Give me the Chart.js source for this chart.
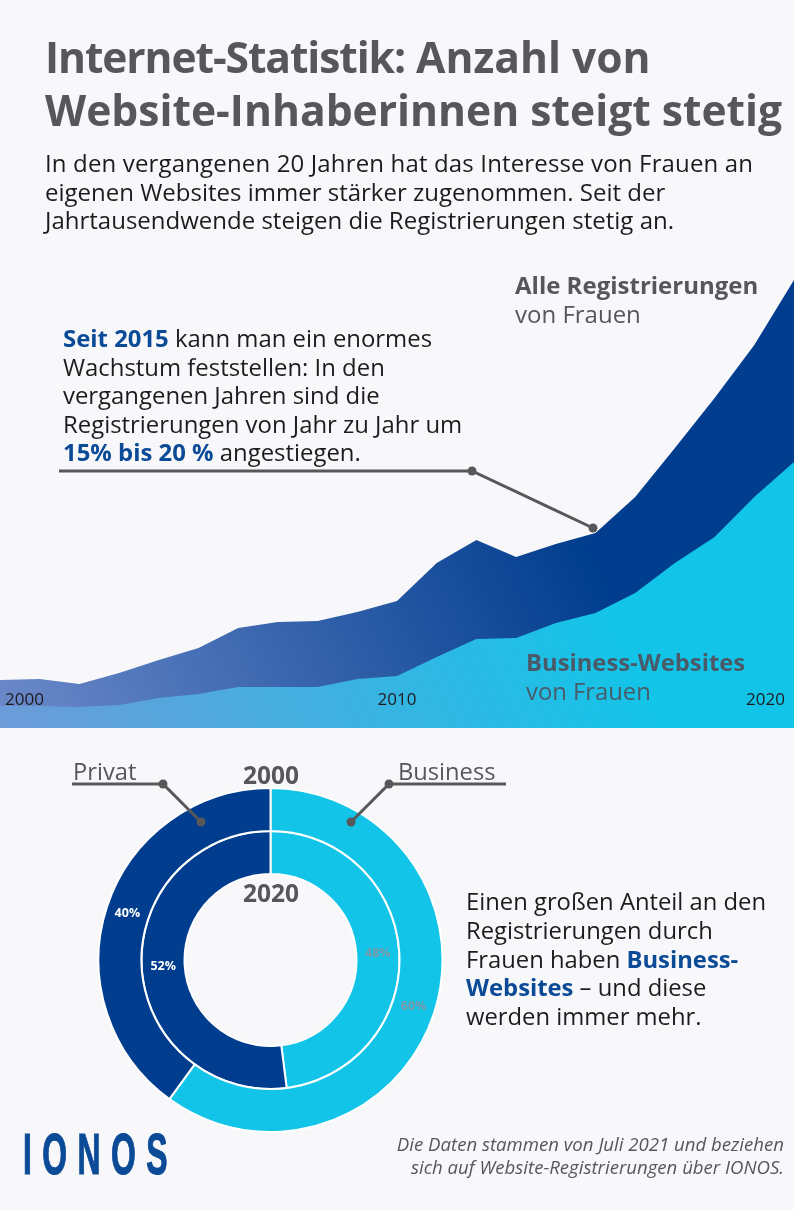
<!DOCTYPE html>
<html lang="de">
<head>
<meta charset="utf-8">
<title>Internet-Statistik</title>
<script src="https://cdn.jsdelivr.net/npm/chart.js@4/dist/chart.umd.min.js"></script>
<style>
    html, body { margin: 0; padding: 0; }
    body { position: relative; width: 794px; height: 1210px; overflow: hidden; background: #f8f8fb; font-family: "Open Sans", sans-serif; color: #1c1c1e; }
    canvas { position: absolute; }
    #areaChart { left: 0; top: 280px; }
    #donutChart { left: 97px; top: 787px; }
    svg { position: absolute; left: 0; top: 0; }
    .txt { position: absolute; white-space: nowrap; }
    .blue { color: #0a4a96; font-weight: 700; }
    .grey { color: #56575b; }
    h1 { position: absolute; left: 45px; top: 30px; margin: 0; font-size: 42.6px; line-height: 53px; font-weight: 700; color: #56575b; white-space: nowrap; }
</style>
</head>
<body>
<canvas id="areaChart" width="794" height="448"></canvas>
<canvas id="donutChart" width="347" height="346"></canvas>

<svg width="794" height="1210">
    <g fill="none" stroke="#58585a" stroke-width="3">
        <polyline points="59,471 472,471 593,528"/>
        <polyline points="72,784 163,784 201,822"/>
        <polyline points="506,784 389,784 351,822"/>
    </g>
    <g fill="#58585a">
        <circle cx="472" cy="471" r="4.5"/>
        <circle cx="593" cy="528" r="4.5"/>
        <circle cx="163" cy="784" r="4.5"/>
        <circle cx="201" cy="822" r="4.5"/>
        <circle cx="389" cy="784" r="4.5"/>
        <circle cx="351" cy="822" r="4.5"/>
    </g>
</svg>

<h1><span style="letter-spacing:-1.1px">Internet-Statistik:</span> Anzahl von<br>Website-Inhaberinnen steigt stetig</h1>

<div class="txt" style="left:45px;top:149px;font-size:24px;line-height:28.5px"><span style="letter-spacing:0.15px">In den vergangenen 20 Jahren hat das Interesse von Frauen an</span><br>eigenen Websites immer stärker zugenommen. Seit der<br>Jahrtausendwende steigen die Registrierungen stetig an.</div>

<div class="txt" style="left:63px;top:324px;font-size:23.9px;line-height:28.6px"><span class="blue">Seit 2015</span> kann man ein enormes<br>Wachstum feststellen: In den<br>vergangenen Jahren sind die<br>Registrierungen von Jahr zu Jahr um<br><span class="blue">15% bis 20 %</span> angestiegen.</div>

<div class="txt grey" style="left:515px;top:271px;font-size:24px;line-height:28.5px"><b>Alle Registrierungen</b><br>von Frauen</div>
<div class="txt" style="left:526px;top:648px;font-size:23.8px;line-height:28.5px;color:#4a5a68"><b>Business-Websites</b><br>von Frauen</div>

<div class="txt grey" style="left:73px;top:755px;font-size:23.7px;line-height:32px">Privat</div>
<div class="txt grey" style="left:398px;top:755px;font-size:23.7px;line-height:32px">Business</div>
<div class="txt grey" style="left:243px;top:759px;font-size:24.5px;line-height:32px;font-weight:700">2000</div>
<div class="txt grey" style="left:243px;top:877px;font-size:24.5px;line-height:32px;font-weight:700">2020</div>

<div class="txt" style="left:466px;top:887px;font-size:23.8px;line-height:28.8px">Einen großen Anteil an den<br>Registrierungen durch<br>Frauen haben <span class="blue">Business-</span><br><span class="blue">Websites</span> – und diese<br>werden immer mehr.</div>

<div class="txt" style="left:23px;top:1120px;font-family:'Liberation Sans',sans-serif;font-weight:700;font-size:58px;line-height:68px;letter-spacing:19px;color:#0a4a96;-webkit-text-stroke:1.2px #0a4a96;transform:scaleX(0.55);transform-origin:left top">IONOS</div>

<div class="txt" style="right:10px;top:1133px;text-align:right;font-size:18.6px;line-height:22.5px;font-style:italic;color:#56575b">Die Daten stammen von Juli 2021 und beziehen<br>sich auf Website-Registrierungen über IONOS.</div>

<script>
const years = ['2000', '2001', '2002', '2003', '2004', '2005', '2006', '2007', '2008', '2009', '2010',
    '2011', '2012', '2013', '2014', '2015', '2016', '2017', '2018', '2019', '2020'];
const yearTicks = ['2000', '2010', '2020'];
const alleValues = [48, 49, 44, 55, 68, 80, 100, 106, 107, 116, 127, 165, 188, 171, 184, 195, 231, 280, 330, 383, 448];
const businessValues = [22, 22, 21, 23, 30, 34, 41, 41, 41, 49, 52, 71, 89, 90, 105, 115, 135, 165, 191, 231, 266];

const donutLabels = ['Business', 'Privat'];
const share2000 = [60, 40];
const share2020 = [48, 52];
const donutColors = ['#12c5e8', '#003d8e'];
const donutTextColors = ['#7b97a6', '#ffffff'];

// gradient laeuft von links unten nach rechts oben
function areaGradient(ctx, left, right) {
    const g = ctx.createLinearGradient(0, 448, 600, 170);
    g.addColorStop(0, left);
    g.addColorStop(0.92, right);
    return g;
}

// Randlabels 2000 und 2020 etwas nach innen schieben
const nudgeTicks = {
    id: 'nudgeTicks',
    beforeDraw(chart) {
        const items = chart.scales.x.getLabelItems(chart.chartArea);
        items.forEach(item => {
            if (item.label === yearTicks[0]) item.options.translation[0] += 5;
            if (item.label === yearTicks[2]) item.options.translation[0] -= 9;
        });
    }
};

const areaCtx = document.getElementById('areaChart').getContext('2d');
new Chart(areaCtx, {
    type: 'line',
    data: {
        labels: years,
        datasets: [{
            label: 'Business-Websites von Frauen',
            data: businessValues,
            backgroundColor: areaGradient(areaCtx, '#6d9bd9', '#12c5e8'),
            borderWidth: 0, pointRadius: 0, tension: 0, fill: 'origin'
        }, {
            label: 'Alle Registrierungen von Frauen',
            data: alleValues,
            backgroundColor: areaGradient(areaCtx, '#6d8aca', '#003d8e'),
            borderWidth: 0, pointRadius: 0, tension: 0, fill: 'origin'
        }]
    },
    options: {
        responsive: false, animation: false,
        layout: { padding: 0 },
        plugins: { legend: { display: false }, tooltip: { enabled: false } },
        scales: {
            x: {
                grid: { display: false }, border: { display: false },
                // Achse liegt im Bild, darf keinen Platz wegnehmen
                afterFit(scale) {
                    scale.height = 0;
                    scale.paddingLeft = 0;
                    scale.paddingRight = 0;
                },
                ticks: {
                    z: 1, mirror: true, padding: 18, align: 'inner', autoSkip: false, maxRotation: 0,
                    color: '#1c1c1e', font: { family: 'Open Sans', size: 17 },
                    callback(value) {
                        const label = this.getLabelForValue(value);
                        return yearTicks.includes(label) ? label : '';
                    }
                }
            },
            y: { display: false, min: 0, max: 448 }
        }
    },
    plugins: [nudgeTicks]
});

// Prozentwerte mitten in die Ringe
const percentLabels = {
    id: 'percentLabels',
    afterDatasetsDraw(chart) {
        const ctx = chart.ctx;
        ctx.save();
        ctx.font = '700 12.5px "Open Sans"';
        ctx.textAlign = 'center';
        ctx.textBaseline = 'middle';
        chart.data.datasets.forEach((ds, i) => {
            chart.getDatasetMeta(i).data.forEach((arc, j) => {
                const p = arc.getCenterPoint();
                ctx.fillStyle = donutTextColors[j];
                ctx.fillText(ds.data[j] + '%', p.x, p.y);
            });
        });
        ctx.restore();
    }
};

new Chart(document.getElementById('donutChart'), {
    type: 'doughnut',
    data: {
        labels: donutLabels,
        datasets: [
            { label: '2000', data: share2000, backgroundColor: donutColors, borderColor: '#ffffff', borderWidth: 2 },
            { label: '2020', data: share2020, backgroundColor: donutColors, borderColor: '#ffffff', borderWidth: 2 }
        ]
    },
    options: {
        responsive: false, animation: false, cutout: '50%',
        layout: { padding: 0 },
        plugins: { legend: { display: false }, tooltip: { enabled: false } }
    },
    plugins: [percentLabels]
});
</script>
</body>
</html>
